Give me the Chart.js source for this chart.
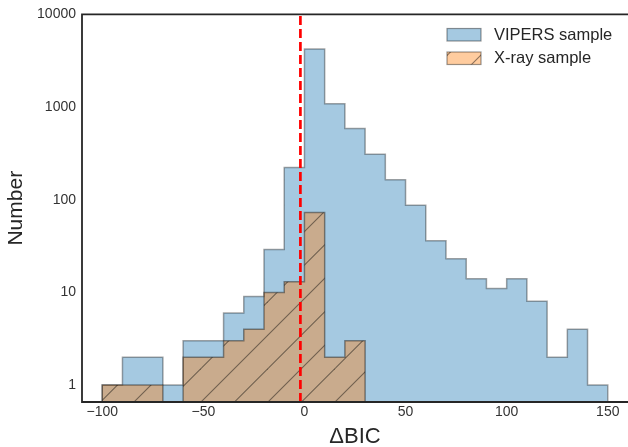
<!DOCTYPE html>
<html>
<head>
<meta charset="utf-8">
<script src="https://cdn.jsdelivr.net/npm/chart.js@4.4.1/dist/chart.umd.min.js"></script>
<style>
  html, body { margin: 0; padding: 0; background: #fff; }
  canvas { display: block; }
</style>
</head>
<body>
<canvas id="hist" width="628" height="447"></canvas>
<script>
// bin left edges, width 10
const binEdges = [-100, -90, -80, -70, -60, -50, -40, -30, -20, -10, 0, 10, 20, 30, 40, 50, 60, 70, 80, 90, 100, 110, 120, 130, 140, 150];
const vipersCounts = [1, 2, 2, 1, 3, 3, 6, 9, 29, 222, 4236, 1085, 588, 310, 164, 87, 36, 23, 14, 11, 14, 8, 2, 4, 1];
const xrayCounts = [1, 1, 1, 0, 2, 2, 3, 4, 10, 13, 73, 2, 3, 0, 0, 0, 0, 0, 0, 0, 0, 0, 0, 0, 0];
const cutValue = -2;

const xTicks = [-100, -50, 0, 50, 100, 150];
const yTicks = [1, 10, 100, 1000, 10000];
const xMin = -110, xMax = 160;
const yMin = 0.656, yMax = 10000;

const FONT = "'Liberation Sans', Arial, sans-serif";
const TEXT = '#262626';
const TICK = '#333333';

// turn counts into step points (empty bins sit on the axis floor)
function stepPoints(counts) {
  const pts = [{ x: binEdges[0], y: yMin }];
  counts.forEach((c, i) => pts.push({ x: binEdges[i], y: c > 0 ? c : yMin }));
  pts.push({ x: binEdges[counts.length], y: yMin });
  return pts;
}

function hatchPattern() {
  const s = 67, step = 33.5;
  const c = document.createElement('canvas');
  c.width = s; c.height = s;
  const g = c.getContext('2d');
  g.fillStyle = 'rgba(255,127,14,0.4)';
  g.fillRect(0, 0, s, s);
  g.strokeStyle = 'rgba(0,0,0,0.45)';
  g.lineWidth = 1.1;
  for (let k = 0; k <= 4; k++) {
    const d = k * step;
    g.beginPath();
    g.moveTo(-2, d + 2);
    g.lineTo(d + 2, -2);
    g.stroke();
  }
  return g.createPattern(c, 'repeat');
}

const ctx = document.getElementById('hist').getContext('2d');
const hatch = hatchPattern();

const frame = {
  id: 'frame',
  afterDatasetsDraw(chart) {
    const { ctx, chartArea: a } = chart;
    ctx.save();
    ctx.strokeStyle = TEXT;
    ctx.lineWidth = 1.8;
    ctx.beginPath();
    ctx.moveTo(a.right + 2, a.top);
    ctx.lineTo(a.left, a.top);
    ctx.lineTo(a.left, a.bottom);
    ctx.lineTo(a.right + 2, a.bottom);
    ctx.stroke();
    ctx.restore();
  }
};

const boxLegend = {
  id: 'boxLegend',
  afterDraw(chart) {
    const c = chart.ctx;
    const items = [
      { text: 'VIPERS sample', fill: 'rgba(31,119,180,0.4)', y: 28.5 },
      { text: 'X-ray sample', fill: hatch, y: 52 }
    ];
    c.save();
    items.forEach(it => {
      c.fillStyle = '#fff';
      c.fillRect(447, it.y, 34, 12.5);
      c.fillStyle = it.fill;
      c.fillRect(447, it.y, 34, 12.5);
      c.strokeStyle = 'rgba(0,0,0,0.4)';
      c.lineWidth = 1.2;
      c.strokeRect(447, it.y, 34, 12.5);
      c.fillStyle = TEXT;
      c.font = '16.5px ' + FONT;
      c.textBaseline = 'middle';
      c.fillText(it.text, 494, it.y + 6.8);
    });
    c.restore();
  }
};

new Chart(ctx, {
  type: 'line',
  data: {
    datasets: [{
      label: 'cut',
      data: [{ x: cutValue, y: yMin }, { x: cutValue, y: yMax }],
      borderColor: '#ff0000',
      borderWidth: 2.7,
      borderDash: [9, 4],
      pointRadius: 0,
      fill: false,
      order: 0
    }, {
      label: 'X-ray sample',
      data: stepPoints(xrayCounts),
      stepped: 'before',
      borderColor: 'rgba(0,0,0,0.4)',
      borderWidth: 1.5,
      backgroundColor: hatch,
      pointRadius: 0,
      fill: 'start',
      order: 1
    }, {
      label: 'VIPERS sample',
      data: stepPoints(vipersCounts),
      stepped: 'before',
      borderColor: 'rgba(0,0,0,0.35)',
      borderWidth: 1.5,
      backgroundColor: 'rgba(31,119,180,0.4)',
      pointRadius: 0,
      fill: 'start',
      order: 2
    }]
  },
  options: {
    responsive: false,
    animation: false,
    devicePixelRatio: 1,
    layout: { padding: { top: 13, right: 0, left: 0, bottom: 0 } },
    plugins: {
      legend: { display: false },
      tooltip: { enabled: false }
    },
    scales: {
      x: {
        type: 'linear',
        min: xMin,
        max: xMax,
        grid: { display: false, drawTicks: false },
        border: { display: false },
        afterBuildTicks: s => { s.ticks = xTicks.map(v => ({ value: v })); },
        afterFit: s => { s.height = 45; },
        ticks: {
          padding: 2,
          color: TICK,
          font: { family: FONT, size: 14 },
          callback: v => (v < 0 ? '\u2212' + Math.abs(v) : String(v))
        },
        title: {
          display: true,
          text: '\u0394BIC',
          color: TEXT,
          font: { family: FONT, size: 22 },
          padding: { top: 0, bottom: -3 }
        }
      },
      y: {
        type: 'logarithmic',
        min: yMin,
        max: yMax,
        grid: { display: false, drawTicks: false },
        border: { display: false },
        afterBuildTicks: s => { s.ticks = yTicks.map(v => ({ value: v })); },
        afterFit: s => { s.width = 82; },
        ticks: {
          padding: 6,
          color: TICK,
          font: { family: FONT, size: 14 },
          callback: v => String(v)
        },
        title: {
          display: true,
          text: 'Number',
          color: TEXT,
          font: { family: FONT, size: 21 },
          padding: { top: 4, bottom: 0 }
        }
      }
    }
  },
  plugins: [frame, boxLegend]
});
</script>
</body>
</html>
